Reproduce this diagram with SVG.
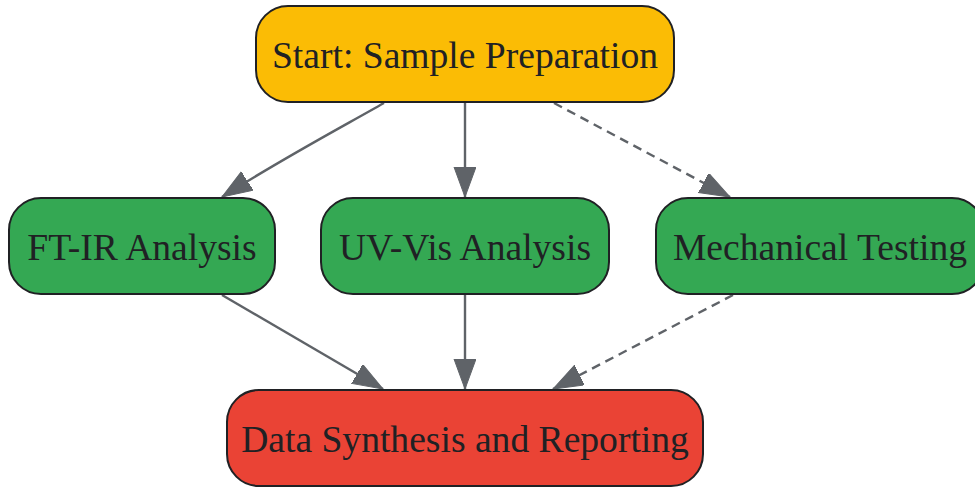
<svg xmlns="http://www.w3.org/2000/svg" width="975" height="487" viewBox="0 0 975 487">
<defs>
<style>
.node rect{stroke:#202124;stroke-width:2}
.node text{font-family:"Liberation Serif","Times New Roman",serif;font-size:37.6px;fill:#202124;text-anchor:middle}
.edge{fill:none;stroke:#5f6368;stroke-width:2.4}
.dash{stroke-dasharray:9,6}
</style>
<marker id="ah" markerUnits="userSpaceOnUse" markerWidth="32" markerHeight="24" refX="30" refY="11" orient="auto" viewBox="0 0 32 24">
<path d="M0,0 L30,11 L0,22 Z" fill="#5f6368" stroke="#5f6368" stroke-width="1"/>
</marker>
</defs>
<rect width="975" height="487" fill="#ffffff"/>
<g id="connectors">
<path class="edge" d="M384,103 C340,128 280,160 222,197" marker-end="url(#ah)"/>
<path class="edge" d="M465,103 L465,197" marker-end="url(#ah)"/>
<path class="edge dash" d="M554,103 L730,197" marker-end="url(#ah)"/>
<path class="edge" d="M222,295 L383,389" marker-end="url(#ah)"/>
<path class="edge" d="M465,295 L465,389" marker-end="url(#ah)"/>
<path class="edge dash" d="M733,295 L553,389" marker-end="url(#ah)"/>
</g>
<g id="start" class="node">
<rect x="256" y="6" width="418" height="96" rx="32" fill="#FBBC05"/>
<text x="465" y="68">Start: Sample Preparation</text>
</g>
<g id="ftir" class="node">
<rect x="9" y="198" width="266" height="96" rx="32" fill="#34A853"/>
<text x="142" y="260">FT-IR Analysis</text>
</g>
<g id="uvvis" class="node">
<rect x="321" y="198" width="288" height="96" rx="32" fill="#34A853"/>
<text x="465" y="260">UV-Vis Analysis</text>
</g>
<g id="mech" class="node">
<rect x="656" y="198" width="328" height="96" rx="32" fill="#34A853"/>
<text x="820" y="260">Mechanical Testing</text>
</g>
<g id="data" class="node">
<rect x="227" y="390" width="476" height="96" rx="32" fill="#EA4335"/>
<text x="465" y="452">Data Synthesis and Reporting</text>
</g>
</svg>
